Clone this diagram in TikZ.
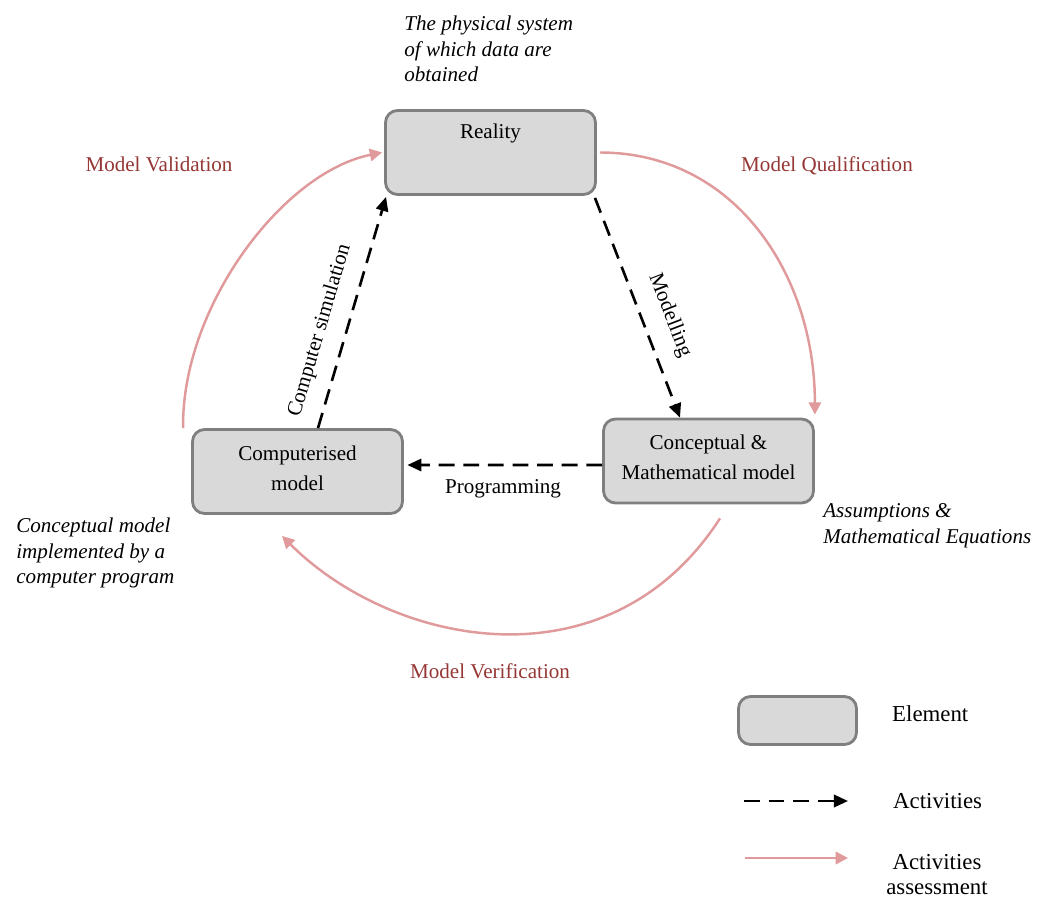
\documentclass[tikz,border=0pt]{standalone}
\usepackage{fontspec}
\setmainfont{Liberation Serif}
\usetikzlibrary{arrows.meta,calc}
\definecolor{boxfill}{HTML}{D9D9D9}
\definecolor{boxline}{HTML}{7F7F7F}
\definecolor{assess}{HTML}{E09A9B}
\definecolor{labred}{HTML}{953735}
\begin{document}
\begin{tikzpicture}[x=0.02cm,y=-0.02cm,
  elem/.style={draw=boxline, fill=boxfill, line width=1.6pt, rounded corners=0.24cm},
  elemtext/.style={align=center, font=\fontsize{12pt}{17pt}\selectfont},
  act/.style={draw=black, line width=1.5pt, dash pattern=on 9pt off 5pt,
    -{Triangle[length=8pt,width=7pt]}},
  assessarrow/.style={draw=assess, line width=1.4pt, -{Triangle[length=7pt,width=7pt]}},
  assesslabel/.style={text=labred, font=\fontsize{12pt}{14pt}\selectfont},
  note/.style={font=\fontsize{12pt}{14.4pt}\selectfont\itshape, align=left,
    inner sep=0pt, anchor=north west},
  plain/.style={font=\fontsize{12pt}{14pt}\selectfont},
  legend/.style={font=\fontsize{13pt}{14.2pt}\selectfont, align=center},
]
\useasboundingbox (0,0) rectangle (1041,899);

% elements
\node[elem, minimum width=4.2cm, minimum height=1.68cm] (reality) at (490.5,152.5) {};
\node[plain] (realitytext) at (490.5,133) {Reality};
\node[elem, minimum width=4.2cm, minimum height=1.68cm] (comp) at (297.5,471.5) {};
\node[elemtext] (comptext) at (297.5,468) {Computerised\\model};
\node[elem, minimum width=4.2cm, minimum height=1.68cm] (concept) at (708.5,461) {};
\node[elemtext] (concepttext) at (708.5,457) {Conceptual \&\\Mathematical model};

% activities
\draw[act] ([xshift=0.41cm]comp.north) --
  node[pos=0.39, sloped, above=5pt, plain] {Computer simulation}
  ([xshift=-2.09cm,yshift=-0.02cm]reality.south);
\draw[act] ([xshift=2.09cm,yshift=-0.04cm]reality.south) --
  node[pos=0.58, sloped, above=6pt, plain] {Modelling}
  ([xshift=-0.57cm]concept.north);
\draw[act, shorten >=2pt] ([yshift=-0.08cm]concept.west) --
  node[below, plain, yshift=-4pt] {Programming}
  ([yshift=0.13cm]comp.east);

% assessment of activities
\draw[assessarrow] ([xshift=0.06cm]reality.east) .. controls +(135,0) and +(0,-140) ..
  ([yshift=0.06cm]concept.north east);
\draw[assessarrow] ([xshift=-0.16cm]comp.north west) .. controls +(-2,-120) and +(-100,20) ..
  ([xshift=-0.04cm]reality.west);
\draw[assessarrow] ([xshift=0.23cm,yshift=-0.28cm]concept.south) .. controls +(-111,172) and +(111,111) ..
  ([xshift=-0.31cm,yshift=-0.42cm]comp.south);

\node[assesslabel] (lval) at (159,164) {Model Validation};
\node[assesslabel] (lqual) at (827,166) {Model Qualification};
\node[assesslabel] (lverif) at (490,671) {Model Verification};

% annotations
\node[note] (realitynote) at (404,16) {The physical system\\of which data are\\obtained};
\node[note, font=\fontsize{12pt}{14.8pt}\selectfont\itshape] (conceptnote) at (823,503) {Assumptions \&\\Mathematical Equations};
\node[note] (compnote) at (16,518) {Conceptual model\\implemented by a\\computer program};

% legend
\node[elem, minimum width=2.36cm, minimum height=0.96cm] (legbox) at (797.5,720.5) {};
\node[legend, anchor=west] (legelem) at (886,714) {Element};
\coordinate (actstart) at (744,801);
\coordinate (actend) at (848,801);
\draw[act] (actstart) -- (actend);
\node[legend, anchor=west] (legact) at (887,801) {Activities};
\coordinate (asstart) at (745,858);
\coordinate (asend) at (848,858);
\draw[assessarrow] (asstart) -- (asend);
\node[legend] (legassess) at (937,875) {Activities\\assessment};
\end{tikzpicture}
\end{document}
